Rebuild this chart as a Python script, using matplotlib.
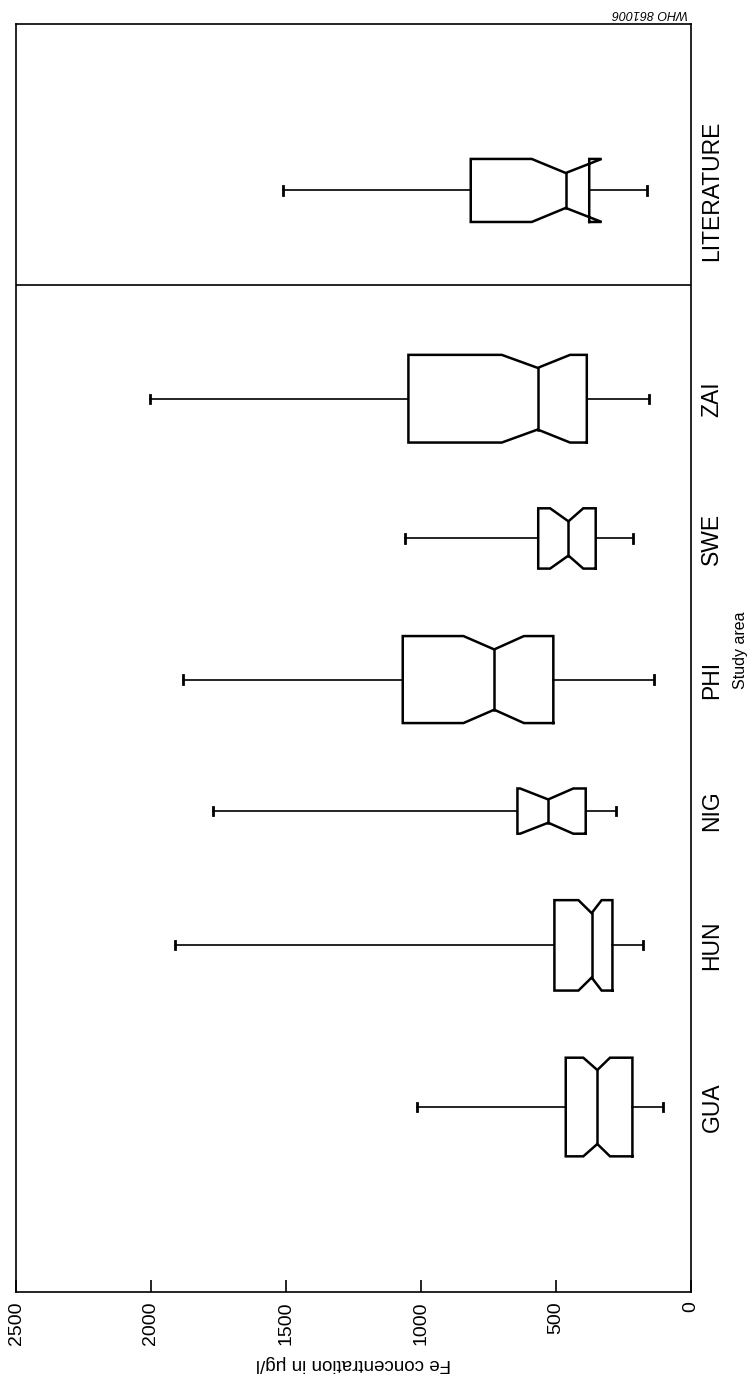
import matplotlib
matplotlib.use('Agg')
import matplotlib.pyplot as plt

# Study areas (bottom to top in the rotated page) and box statistics, Fe in ug/l
categories = ['GUA', 'HUN', 'NIG', 'PHI', 'SWE', 'ZAI', 'LITERATURE']
positions = [1.0, 2.18, 3.16, 4.12, 5.15, 6.17, 7.69]
whis_lo = [102, 176, 277, 136, 215, 154, 163]
q1 = [216, 290, 389, 509, 352, 385, 376]
ci_lo = [299, 330, 435, 618, 398, 447, 330]
median = [346, 367, 528, 728, 453, 567, 463]
ci_hi = [398, 416, 632, 842, 521, 700, 589]
q3 = [463, 505, 642, 1067, 565, 1046, 815]
whis_hi = [1013, 1910, 1770, 1881, 1058, 2003, 1510]
# variable box widths and notch waists
box_width = [0.72, 0.66, 0.33, 0.635, 0.44, 0.64, 0.46]
notch_width = [0.54, 0.47, 0.17, 0.44, 0.25, 0.45, 0.255]
xticks = [0, 500, 1000, 1500, 2000, 2500]

plt.rcParams['font.family'] = ['Liberation Sans', 'DejaVu Sans']

fig = plt.figure(figsize=(7.54, 13.76), dpi=100)
ax = fig.add_axes([16 / 754, 1 - 1291.7 / 1376, (690.7 - 16) / 754, (1291.7 - 24) / 1376])

cap = 0.03
for i in range(len(categories)):
    c = positions[i]
    h = box_width[i] / 2
    n = notch_width[i] / 2
    xs = [q1[i], ci_lo[i], median[i], ci_hi[i], q3[i], q3[i], ci_hi[i], median[i], ci_lo[i], q1[i], q1[i]]
    ys = [c - h, c - h, c - n, c - h, c - h, c + h, c + h, c + n, c + h, c + h, c - h]
    ax.plot(xs, ys, color='black', lw=1.8, solid_joinstyle='miter')
    ax.plot([median[i], median[i]], [c - n, c + n], color='black', lw=1.8)
    # whiskers and caps
    ax.plot([whis_lo[i], q1[i]], [c, c], color='black', lw=1.2)
    ax.plot([q3[i], whis_hi[i]], [c, c], color='black', lw=1.2)
    ax.plot([whis_lo[i], whis_lo[i]], [c - cap, c + cap], color='black', lw=2)
    ax.plot([whis_hi[i], whis_hi[i]], [c - cap, c + cap], color='black', lw=2)

# separator between study areas and literature values
ax.axhline(7.0, color='black', lw=1.2)

ax.set_xlim(2500, 0)
ax.set_ylim(-0.348, 8.905)
ax.set_xticks(xticks)
ax.set_xticklabels([str(t) for t in xticks])
ax.tick_params(axis='x', direction='in', length=8.6, width=1.2, labelrotation=90,
               labelsize=14, pad=7)
ax.set_yticks(positions)
ax.set_yticklabels(categories)
ax.yaxis.tick_right()
ax.tick_params(axis='y', length=0, labelrotation=90, labelsize=16.5, pad=7)
for lbl in ax.get_yticklabels():
    lbl.set_va('center')
for s in ax.spines.values():
    s.set_linewidth(1.2)

ax.set_xlabel('Fe concentration in μg/l', rotation=180, fontsize=13.5, labelpad=7)
fig.text(740 / 754, 1 - 650 / 1376, 'Study area', rotation=90, ha='center', va='center', fontsize=11.5)
fig.text(650 / 754, 1 - 12.5 / 1376, 'WHO 861006', rotation=180, style='italic',
         ha='center', va='center', fontsize=9)

fig.savefig('out.png', dpi=100)
